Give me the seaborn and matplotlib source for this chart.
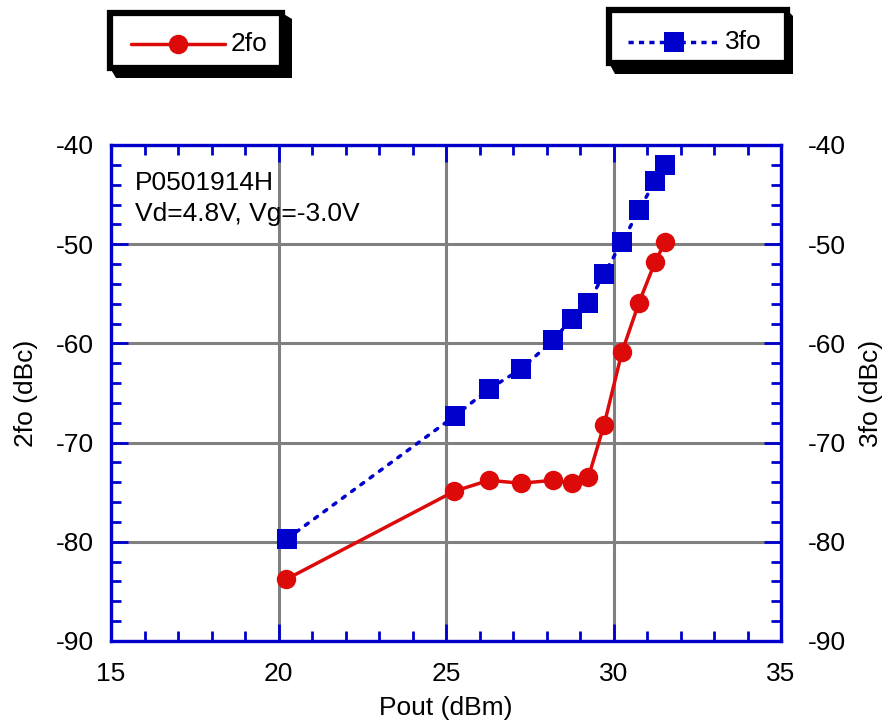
import matplotlib
matplotlib.use("Agg")
import matplotlib.pyplot as plt
import seaborn as sns
import pandas as pd
from matplotlib.patches import Rectangle, Polygon
from matplotlib.lines import Line2D
from matplotlib.ticker import MultipleLocator

# ---- data ----
pout_2fo = [20.22, 25.25, 26.28, 27.24, 28.19, 28.76, 29.25, 29.72, 30.25, 30.76, 31.24, 31.54]
val_2fo = [-83.8, -74.9, -73.8, -74.1, -73.8, -74.1, -73.5, -68.2, -60.9, -55.9, -51.8, -49.8]
pout_3fo = [20.25, 25.27, 26.28, 27.24, 28.19, 28.76, 29.25, 29.72, 30.25, 30.76, 31.24, 31.54]
val_3fo = [-79.7, -67.3, -64.6, -62.6, -59.7, -57.5, -55.9, -53.0, -49.8, -46.6, -43.6, -42.0]
x_ticks = [15, 20, 25, 30, 35]
y_ticks = [-90, -80, -70, -60, -50, -40]
title_lines = ["P0501914H", "Vd=4.8V, Vg=-3.0V"]

RED = "#DD0A0A"
BLUE = "#0000CC"
GRAY = "#808080"
FS = 19

sns.set_style("white")
plt.rcParams["font.family"] = ["Liberation Sans", "DejaVu Sans"]
plt.rcParams["font.size"] = FS
plt.rcParams["axes.unicode_minus"] = False
plt.rcParams["text.color"] = "black"
plt.rcParams["axes.labelcolor"] = "black"
plt.rcParams["xtick.labelcolor"] = "black"
plt.rcParams["ytick.labelcolor"] = "black"

W, H = 887, 728
fig = plt.figure(figsize=(W / 100, H / 100), dpi=100)
L, R, T, B = 111, 781, 145, 641
ax = fig.add_axes([L / W, 1 - B / H, (R - L) / W, (B - T) / H])

df2 = pd.DataFrame({"x": pout_2fo, "y": val_2fo})
df3 = pd.DataFrame({"x": pout_3fo, "y": val_3fo})

sns.lineplot(data=df3, x="x", y="y", ax=ax, color=BLUE, lw=2.5, sort=False,
             marker="s", markersize=14, markeredgewidth=0, zorder=4)
ax.lines[-1].set_linestyle((0, (1.0, 2.3)))
ax.lines[-1].set_dash_capstyle("round")
sns.lineplot(data=df2, x="x", y="y", ax=ax, color=RED, lw=2.5, sort=False,
             marker="o", markersize=14, markeredgewidth=0, zorder=5)

ax.set_xlim(15, 35)
ax.set_ylim(-90, -40)
ax.set_xticks(x_ticks)
ax.set_yticks(y_ticks)
ax.xaxis.set_minor_locator(MultipleLocator(1))
ax.yaxis.set_minor_locator(MultipleLocator(2))
ax.grid(True, which="major", color=GRAY, lw=2.2, zorder=0)
ax.set_axisbelow(True)
for s in ax.spines.values():
    s.set_color(BLUE)
    s.set_linewidth(2.4)
    s.set_visible(True)
ax.tick_params(which="both", direction="in", color=BLUE, top=True, right=True,
               bottom=True, left=True, labelsize=FS)
ax.tick_params(axis="y", pad=12)
ax.tick_params(axis="x", pad=15)
ax.tick_params(which="major", length=12, width=2)
ax.tick_params(which="minor", length=7, width=2)
ax.set_xlabel("Pout (dBm)", fontsize=FS, labelpad=7)
ax.set_ylabel("2fo (dBc)", fontsize=FS, labelpad=13)

ax2 = ax.twinx()
ax2.set_ylim(-90, -40)
ax2.set_yticks(y_ticks)
ax2.yaxis.set_minor_locator(MultipleLocator(2))
ax2.tick_params(which="both", direction="in", color=BLUE, labelsize=FS, pad=19)
ax2.tick_params(which="major", length=12, width=2)
ax2.tick_params(which="minor", length=7, width=2)
for s in ax2.spines.values():
    s.set_visible(False)
ax2.set_ylabel("3fo (dBc)", fontsize=FS, labelpad=10)
ax2.grid(False)

ax.text(135 / W, 1 - 190 / H, title_lines[0], transform=fig.transFigure,
        ha="left", va="baseline", fontsize=FS)
ax.text(135 / W, 1 - 221 / H, title_lines[1], transform=fig.transFigure,
        ha="left", va="baseline", fontsize=FS)

# ---- custom legend boxes ----
def px(x, y):
    return (x / W, 1 - y / H)

def legend_box(x0, y0, x1, y1, sx, sy, label, color, marker, ls, ms, lx0, lx1, ly, tx):
    shadow = Polygon([px(x0, y1), px(x0 + 6, y1 + sy), px(x1 + sx, y1 + sy),
                      px(x1 + sx, y0 + 6), px(x1, y0), px(x1, y1)],
                     closed=True, transform=fig.transFigure, facecolor="black",
                     edgecolor="black", lw=0)
    fig.patches.append(shadow)
    rect = Rectangle(px(x0, y1), (x1 - x0) / W, (y1 - y0) / H, transform=fig.transFigure,
                     facecolor="white", edgecolor="black", lw=4.5)
    fig.patches.append(rect)
    ln = Line2D([lx0 / W, lx1 / W], [1 - ly / H, 1 - ly / H], transform=fig.transFigure,
                color=color, lw=2.5, ls=ls)
    fig.lines.append(ln)
    mk = Line2D([(lx0 + lx1) / 2 / W], [1 - ly / H], transform=fig.transFigure,
                color=color, marker=marker, markersize=ms, markeredgewidth=0, ls="none")
    fig.lines.append(mk)
    fig.text(tx / W, 1 - ly / H, label, ha="left", va="center", fontsize=FS)

legend_box(110, 13, 282, 68, 10, 10, "2fo", RED, "o", "-", 14, 131, 225, 44, 231)
legend_box(609, 10, 787, 63, 6, 11, "3fo", BLUE, "s", (0, (1.5, 1.5)), 14, 628, 720, 42, 725)

fig.savefig("out.png", dpi=100)
